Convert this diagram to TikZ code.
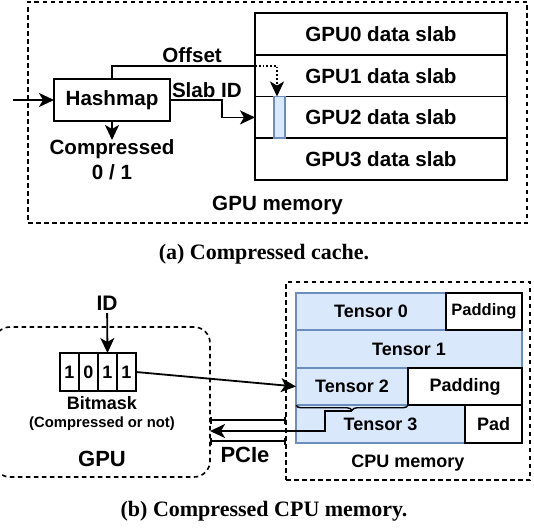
\documentclass[tikz,border=0pt]{standalone}
\usepackage{fontspec}
\setsansfont{Liberation Sans}
\setmainfont{Liberation Serif}
\usetikzlibrary{positioning,arrows.meta,decorations.pathreplacing}

\definecolor{cellfill}{HTML}{DAE8FC}
\definecolor{cellline}{HTML}{6C8EBF}

\newcommand{\bigtxt}{\fontsize{20.6}{25}\selectfont}
\newcommand{\midtxt}{\fontsize{18}{21}\selectfont}
\newcommand{\smalltxt}{\fontsize{14.8}{17}\selectfont}

\begin{document}
\begin{tikzpicture}[x=1pt, y=-1pt,
	every node/.style={font=\sffamily\bfseries\bigtxt, inner sep=0pt, outer sep=0pt},
	memframe/.style={draw, line width=1.6pt, dash pattern=on 4.5pt off 3.5pt},
	slab/.style={draw, line width=1.9pt, minimum width=252pt, minimum height=41.75pt},
	blockbox/.style={draw, line width=1.9pt, minimum width=116pt, minimum height=42pt},
	slot/.style={draw=cellline, fill=cellfill, line width=1.9pt, minimum width=11pt, minimum height=41.75pt},
	tensor/.style={draw=cellline, fill=cellfill, line width=1.9pt, minimum height=37.5pt, font=\sffamily\bfseries\midtxt},
	padbox/.style={draw, fill=white, line width=1.9pt, minimum height=37.5pt, font=\sffamily\bfseries\midtxt},
	bitcell/.style={draw, line width=1.9pt, minimum width=19pt, minimum height=38pt, font=\sffamily\bfseries\midtxt},
	wire/.style={line width=1.8pt},
	arr/.style={line width=1.8pt, -{Stealth[length=15pt, width=14pt, inset=4pt]}},
	figcap/.style={font=\rmfamily\bfseries\fontsize{22}{26}\selectfont}]

	\useasboundingbox (0,0) rectangle (534,527);

	\node[memframe, minimum width=499pt, minimum height=221pt] (gpumem) at (277.5,112.5) {};
	\node (gpumemlbl) at (277.5,205) {GPU memory};

	\foreach \i in {0,...,3}
		\node[slab] (slab\i) at (381,33.9+41.75*\i) {GPU\i\ data slab};

	\node[slot] (slot) at (279.5,117.4) {};

	\node[blockbox] (hash) at (112,100) {Hashmap};
	\coordinate (in) at (13,100);
	\draw[arr] (in) -- (hash.west);

	\node[align=center, below=19pt of hash] (cmp) {Compressed\\0 / 1};
	\draw[arr] (hash.south) -- (cmp.north);

	\coordinate (offin) at ([yshift=-11pt]slab1.north west);
	\draw[wire] (hash.north) |- (offin) node[pos=0.78, above=3pt] (offlbl) {Offset};
	\draw[arr, dotted] (offin) -| ([xshift=-2.5pt]slot.north);

	\node[anchor=south west] (slablbl) at ([xshift=2pt, yshift=2pt]hash.east) {Slab ID};
	\draw[arr] (hash.east) -- ++(52,0) |- (slab2.west);

	\node[figcap] (capa) at (264,254) {(a) Compressed cache.};

	\node[memframe, rounded corners=16pt, minimum width=216pt, minimum height=150pt] (gpu) at (102,402) {};
	\node[font=\sffamily\bfseries\fontsize{22}{26}\selectfont] (gpulbl) at (102,459) {GPU};

	\node[font=\sffamily\bfseries\fontsize{21}{25}\selectfont, inner sep=3pt] (id) at (107,303) {ID};

	\foreach \b [count=\i from 0] in {1,0,1,1}
		\node[bitcell] (bit\i) at (69.5+19*\i,372) {\b};

	\draw[arr] (id) -- (bit2.north);

	\node[font=\sffamily\bfseries\midtxt] (bmlbl) at (102,403) {Bitmask};
	\node[font=\sffamily\bfseries\smalltxt] (bmnote) at (102,424) {(Compressed or not)};

	\node[memframe, minimum width=244pt, minimum height=198pt] (cpumem) at (408,381) {};
	\node[font=\sffamily\bfseries\midtxt] (cpulbl) at (408,463) {CPU memory};

	\node[tensor, minimum width=150pt] (t0) at (371,311.5) {Tensor 0};
	\node[tensor, minimum width=226pt] (t1) at (409,349) {Tensor 1};
	\node[tensor, minimum width=112pt] (t2) at (352,386.5) {Tensor 2};
	\node[tensor, minimum width=169pt] (t3) at (380.5,424) {Tensor 3};

	\node[padbox, minimum width=76pt, font=\sffamily\bfseries\fontsize{16.5}{20}\selectfont] (p0) at (484,311.5) {Padding};
	\node[padbox, minimum width=114pt] (p2) at (465,386.5) {Padding};
	\node[padbox, minimum width=57pt] (p3) at (493.5,424) {Pad};

	\draw[arr] (bit3.east) -- (t2.west);

	\draw[wire, line width=1.4pt, decorate, decoration={brace, mirror, amplitude=5pt}] (t2.south west) -- (t2.south east);
	\coordinate (tip) at ([yshift=-6pt]t2.south);

	\coordinate (pciein) at ([yshift=-29pt]gpu.east);
	\coordinate (pcieA) at ([yshift=-18pt]gpu.east);
	\coordinate (pcieB) at ([yshift=-39pt]gpu.east);

	\draw[arr] (tip) -- ++(-27,0) |- (pciein);
	\draw[wire, {Bar[width=7pt]}-{Bar[width=7pt]}] (pcieA) -- (pcieA -| cpumem.west);
	\draw[wire, {Bar[width=7pt]}-{Bar[width=7pt]}] (pcieB) -- (pcieB -| cpumem.west);
	\node[font=\sffamily\bfseries\fontsize{22}{26}\selectfont] (pcielbl) at (245,455) {PCIe};

	\node[figcap] (capb) at (264,511) {(b) Compressed CPU memory.};

\end{tikzpicture}
\end{document}
